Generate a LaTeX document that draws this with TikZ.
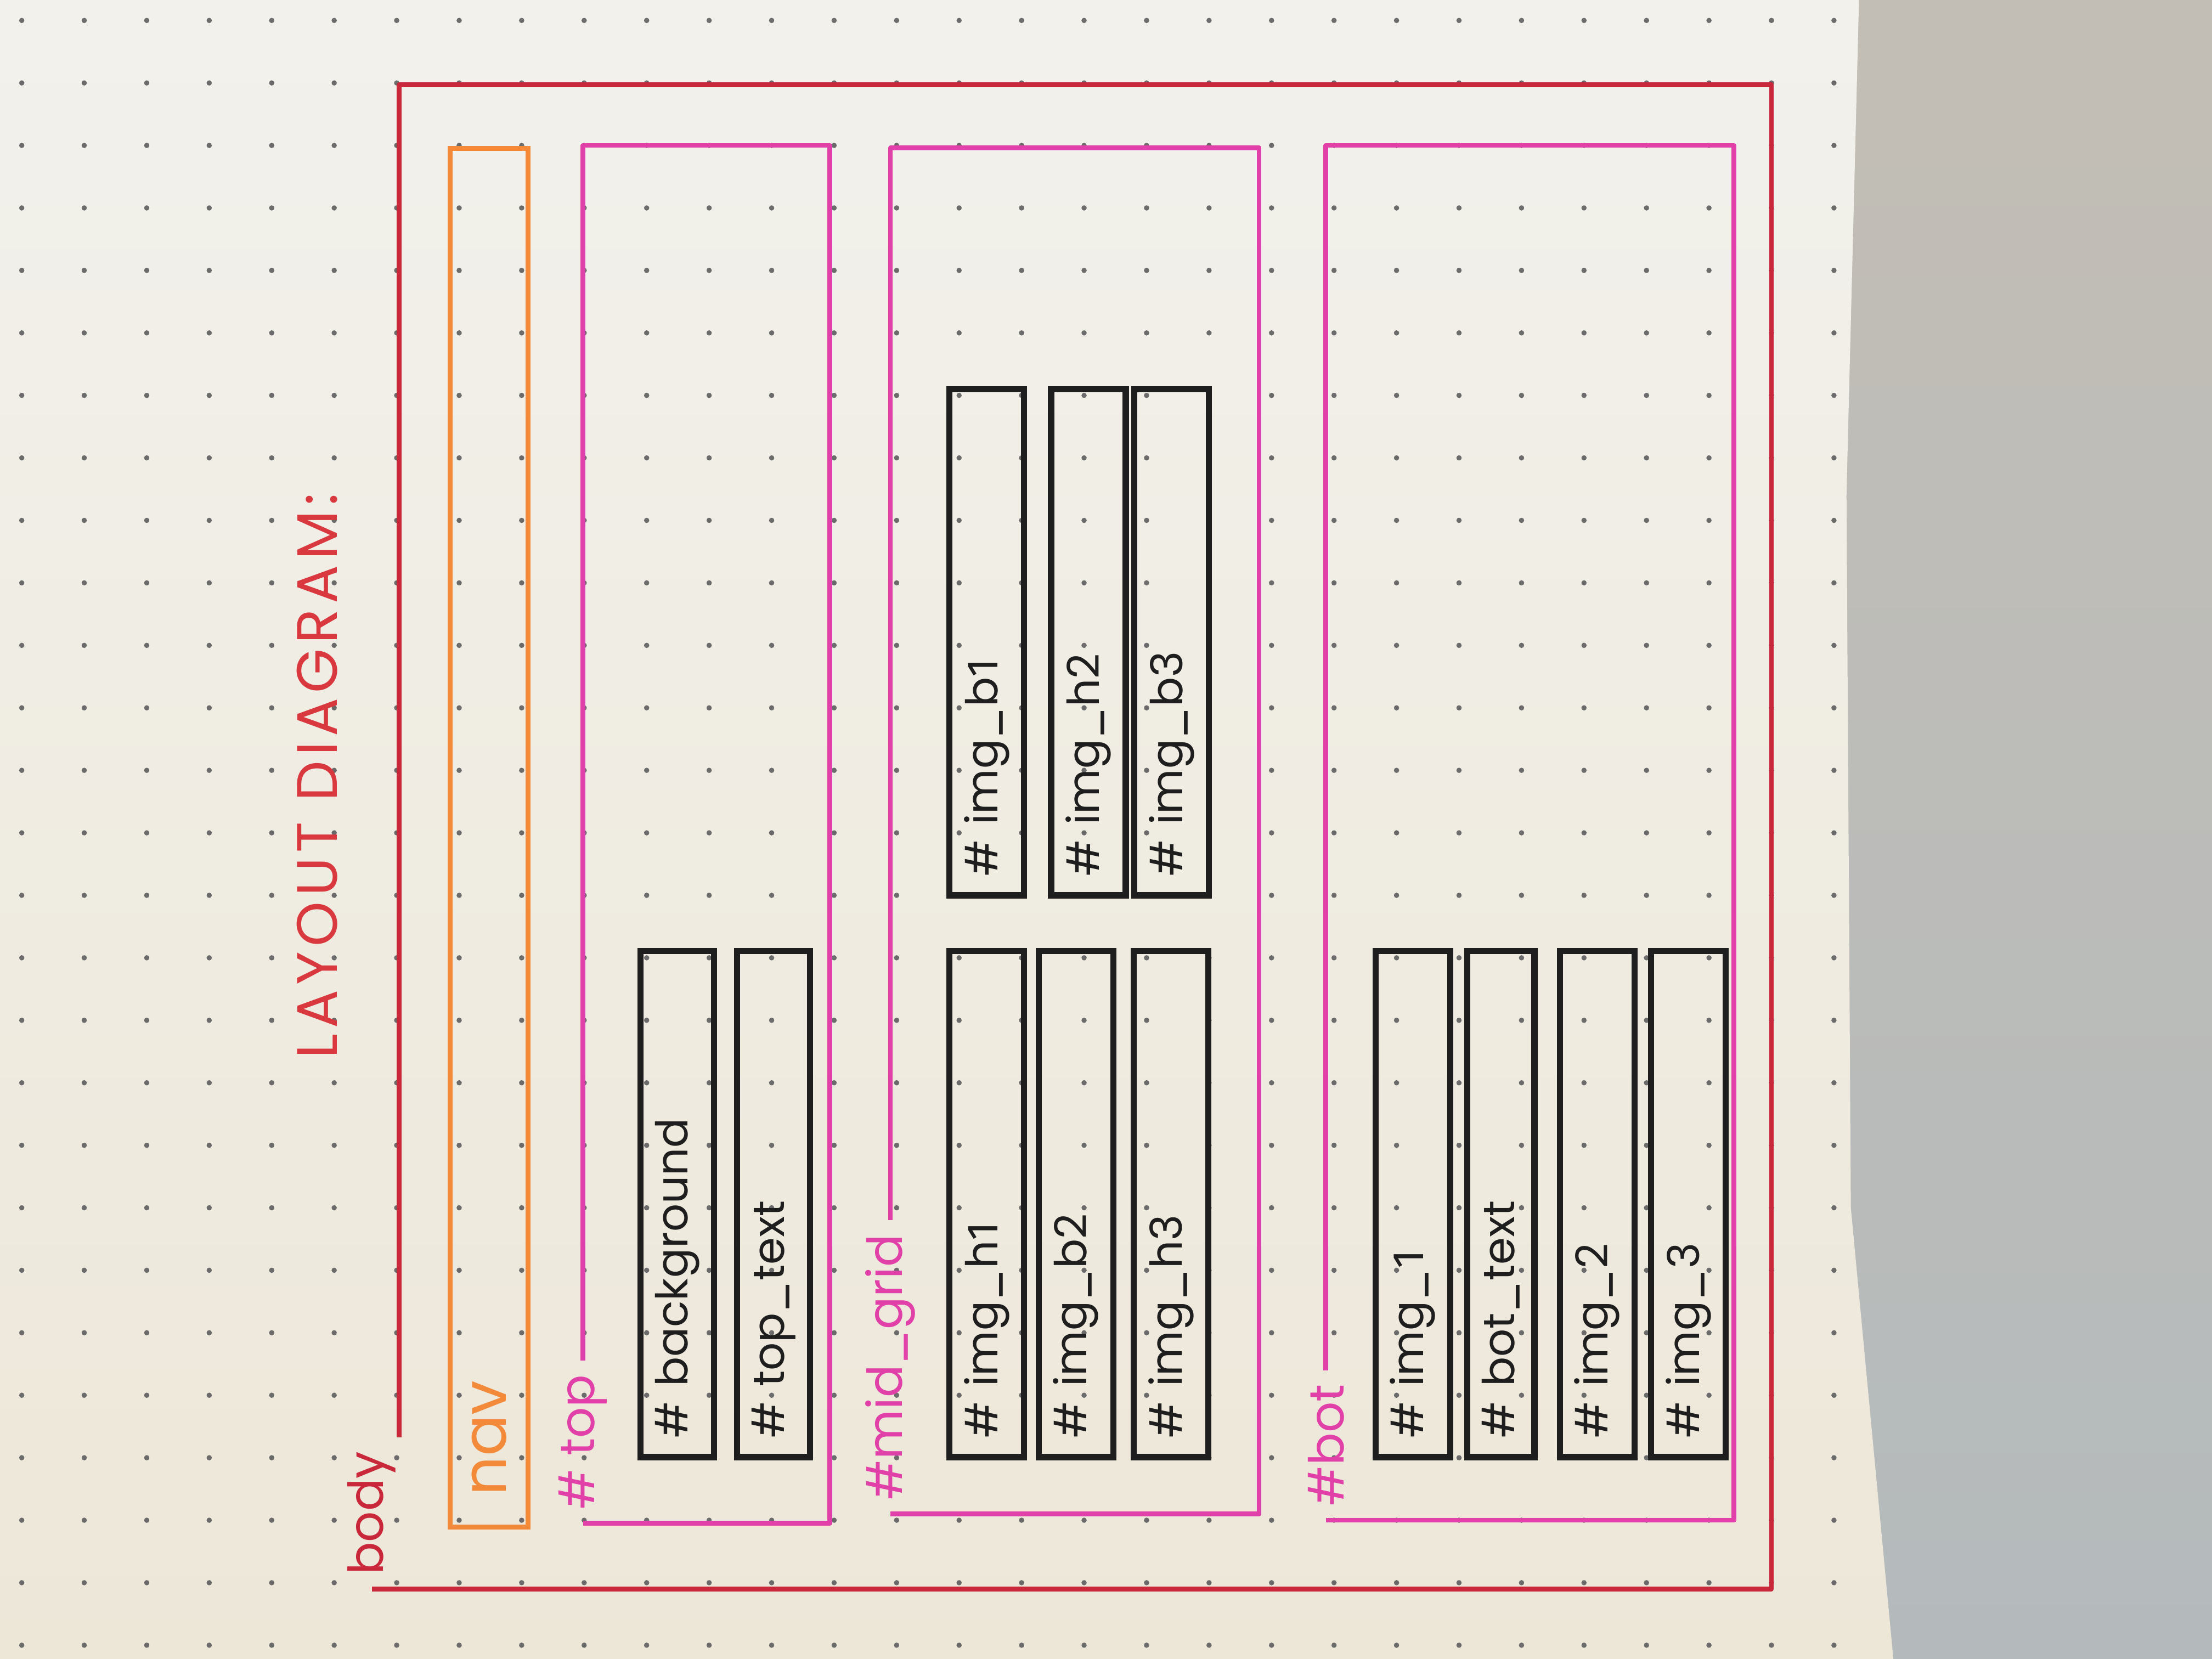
\documentclass[tikz,border=0pt]{standalone}
\usepackage{fontspec}
\setmainfont{Poppins}
\newfontfamily\lydigit{Fira Sans}
\definecolor{papertop}{HTML}{F2F1EC}
\definecolor{paperbot}{HTML}{EDE7D8}
\definecolor{desktop}{HTML}{C3BEB5}
\definecolor{deskbot}{HTML}{B4BABC}
\definecolor{dotgray}{HTML}{6B6B6B}
\definecolor{bodyred}{HTML}{C9283A}
\definecolor{titlered}{HTML}{D9383F}
\definecolor{navorange}{HTML}{F28A3A}
\definecolor{divpink}{HTML}{E040A8}
\definecolor{ink}{HTML}{1E1E1E}
\def\yLow{18.94}
\def\yUp{9.95}
\newcommand{\lyone}{{\lydigit 1}}
\newcommand{\lytitle}{\fontsize{13}{13}\selectfont\addfontfeatures{LetterSpace=9}}
\newcommand{\lylabel}{\fontsize{11}{11}\selectfont}
\tikzset{
  lyline/.style={line width=1.1pt, line join=round},
  lylbl/.style={rotate=90, anchor=west, inner sep=3pt, font=\lylabel},
  lybox/.style={draw=ink, text=ink, line width=1.4pt, rotate=90, align=left,
    minimum width=4.05cm, text width=3.75cm, inner xsep=0.15cm,
    minimum height=0.525cm, font=\fontsize{10}{10}\selectfont},
}
\newcommand{\lyframe}[8]{%
  \coordinate (#1tl) at (#3,#4);
  \node[lylbl, text=#2] (#1) at (#7,#6) {#8};
  \draw[lyline, draw=#2] (#1.west) -- (#5,#6) -- (#5,#4) -- (#1tl) -- (#1.east -| #1tl);}
\newcommand{\lybox}[4]{\node[lybox] (#1) at (#2,#3) {\# #4};}

\begin{document}
\begin{tikzpicture}[x=0.5cm, y=-0.5cm]
  \useasboundingbox (-4.348,-0.327) rectangle (31.05,26.22);
  \shade[top color=desktop, bottom color=deskbot] (-4.348,-0.327) rectangle (31.05,26.22);
  \shade[top color=papertop, bottom color=paperbot] (-4.348,-0.327) -- (25.4,-0.327)
    -- (25.2,7.6) -- (25.27,19) -- (25.95,26.22) -- (-4.348,26.22) -- cycle;
  \foreach \i in {-4,...,25}
    \foreach \j in {0,...,26}
      \fill[dotgray] (\i,\j) circle (0.6pt);

  \node[rotate=90, text=titlered, font=\lytitle] (title) at (0.73,12.09) {LAYOUT DIAGRAM:};

  \lyframe{body}{bodyred}{2.04}{1.03}{24}{25.1}{1.6}{body}
  \node[lybox, draw=navorange, text=navorange, line width=1.1pt,
    minimum width=11.03cm, text width=10.53cm, inner xsep=0.25cm,
    minimum height=0.625cm, font=\fontsize{14}{14}\selectfont] (nav) at (3.48,13.08) {nav};
  \lyframe{top}{divpink}{4.98}{2.0}{8.93}{24.05}{4.98}{\# top}
  \lyframe{midgrid}{divpink}{9.9}{2.04}{15.8}{23.9}{9.9}{\#mid\_grid}
  \lyframe{bot}{divpink}{16.87}{2.0}{23.4}{24.0}{16.87}{\#bot}

  \lybox{background}{6.49}{\yLow}{background}
  \lybox{toptext}{8.03}{\yLow}{top\_text}

  \lybox{imgh1}{11.44}{\yLow}{img\_h\lyone}
  \lybox{imgb2}{12.87}{\yLow}{img\_b2}
  \lybox{imgh3}{14.39}{\yLow}{img\_h3}
  \lybox{imgb1}{11.44}{\yUp}{img\_b\lyone}
  \lybox{imgh2}{13.07}{\yUp}{img\_h2}
  \lybox{imgb3}{14.4}{\yUp}{img\_b3}

  \lybox{img1}{18.26}{\yLow}{img\_\lyone}
  \lybox{bottext}{19.67}{\yLow}{bot\_text}
  \lybox{img2}{21.21}{\yLow}{img\_2}
  \lybox{img3}{22.67}{\yLow}{img\_3}
\end{tikzpicture}
\end{document}
